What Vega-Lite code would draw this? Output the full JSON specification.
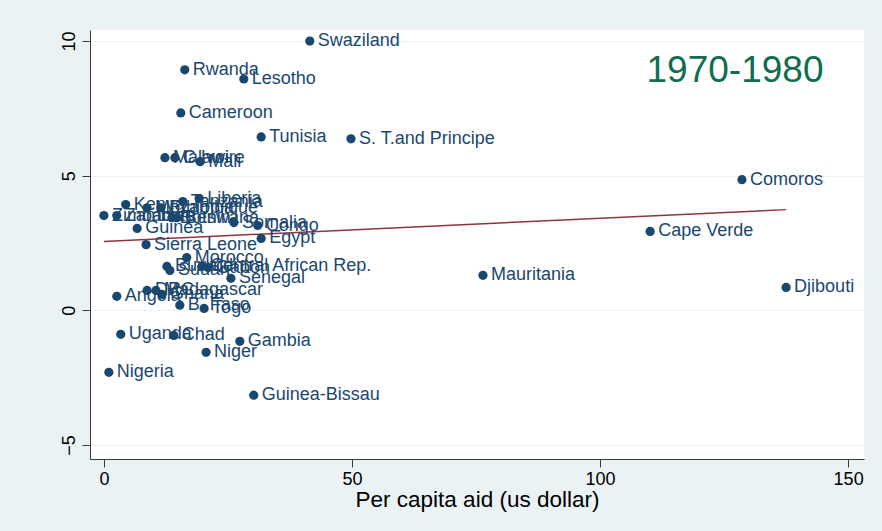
{
  "$schema": "https://vega.github.io/schema/vega-lite/v6.json",
  "autosize": {"type": "none"},
  "width": 774,
  "height": 429,
  "padding": {"left": 90, "top": 30, "right": 18, "bottom": 72},
  "background": "#eaf2f3",
  "config": {
    "view": {"fill": "white", "stroke": null},
    "font": "Liberation Sans",
    "axis": {
      "domainColor": "#3a3a3a",
      "tickColor": "#3a3a3a",
      "tickSize": 8,
      "labelColor": "#000000",
      "labelFont": "Liberation Sans",
      "labelFontSize": 18,
      "titleFont": "Liberation Sans",
      "titleFontWeight": "normal",
      "titleColor": "#000000"
    }
  },
  "datasets": {
    "countries": [
      {"country": "Swaziland", "aid": 41.5, "growth": 10.0},
      {"country": "Rwanda", "aid": 16.3, "growth": 8.93},
      {"country": "Lesotho", "aid": 28.2, "growth": 8.59},
      {"country": "Cameroon", "aid": 15.5, "growth": 7.33},
      {"country": "Tunisia", "aid": 31.7, "growth": 6.44},
      {"country": "S. T.and Principe", "aid": 49.8, "growth": 6.37},
      {"country": "Malawi", "aid": 12.3, "growth": 5.67},
      {"country": "C.Ivoire", "aid": 14.3, "growth": 5.67},
      {"country": "Mali", "aid": 19.4, "growth": 5.52},
      {"country": "Comoros", "aid": 128.6, "growth": 4.85},
      {"country": "Liberia", "aid": 19.2, "growth": 4.15},
      {"country": "Tanzania", "aid": 15.9, "growth": 4.04},
      {"country": "Kenya", "aid": 4.4, "growth": 3.93},
      {"country": "Mozambique", "aid": 8.7, "growth": 3.81},
      {"country": "Ethiopia", "aid": 11.5, "growth": 3.81},
      {"country": "Zimbabwe", "aid": 0.0, "growth": 3.52},
      {"country": "Zambia", "aid": 2.6, "growth": 3.52},
      {"country": "Botswana", "aid": 13.7, "growth": 3.44},
      {"country": "Benin", "aid": 14.7, "growth": 3.44},
      {"country": "Somalia", "aid": 26.2, "growth": 3.26},
      {"country": "Congo", "aid": 31.0, "growth": 3.15},
      {"country": "Guinea", "aid": 6.7, "growth": 3.04},
      {"country": "Egypt", "aid": 31.7, "growth": 2.67},
      {"country": "Sierra Leone", "aid": 8.5, "growth": 2.44},
      {"country": "Morocco", "aid": 16.7, "growth": 1.96},
      {"country": "Burundi", "aid": 12.7, "growth": 1.63},
      {"country": "Sudan", "aid": 13.3, "growth": 1.48},
      {"country": "Central African Rep.", "aid": 19.8, "growth": 1.63},
      {"country": "Gabon", "aid": 21.0, "growth": 1.59},
      {"country": "Senegal", "aid": 25.6, "growth": 1.19},
      {"country": "Mauritania", "aid": 76.4, "growth": 1.3},
      {"country": "Cape Verde", "aid": 110.1, "growth": 2.93},
      {"country": "Djibouti", "aid": 137.5, "growth": 0.85},
      {"country": "DRC", "aid": 8.7, "growth": 0.74},
      {"country": "Madagascar", "aid": 10.5, "growth": 0.74},
      {"country": "Angola", "aid": 2.6, "growth": 0.52},
      {"country": "Ghana", "aid": 11.7, "growth": 0.59},
      {"country": "B. Faso", "aid": 15.3, "growth": 0.19},
      {"country": "Togo", "aid": 20.2, "growth": 0.07},
      {"country": "Uganda", "aid": 3.4, "growth": -0.89},
      {"country": "Chad", "aid": 14.1, "growth": -0.93},
      {"country": "Gambia", "aid": 27.4, "growth": -1.15},
      {"country": "Niger", "aid": 20.6, "growth": -1.56},
      {"country": "Nigeria", "aid": 1.0, "growth": -2.3},
      {"country": "Guinea-Bissau", "aid": 30.2, "growth": -3.15}
    ],
    "fit": [
      {"aid": 0, "fitted": 2.56},
      {"aid": 137.5, "fitted": 3.74}
    ],
    "period": [
      {"label": "1970-1980"}
    ]
  },
  "layer": [
    {
      "data": {"name": "fit"},
      "mark": {"type": "line", "color": "#90353b", "strokeWidth": 1.5},
      "encoding": {
        "x": {
          "field": "aid", "type": "quantitative",
          "scale": {"domain": [-2.8, 153.2], "nice": false, "zero": false},
          "axis": {
            "values": [0, 50, 100, 150],
            "title": "Per capita aid (us dollar)",
            "titleFontSize": 22.5,
            "titlePadding": 0,
            "labelPadding": 3,
            "grid": false
          }
        },
        "y": {
          "field": "fitted", "type": "quantitative",
          "scale": {"domain": [-5.52, 10.41], "nice": false, "zero": false},
          "axis": {
            "values": [-5, 0, 5, 10],
            "title": null,
            "labelAngle": 270,
            "labelAlign": "center",
            "labelBaseline": "bottom",
            "labelPadding": 4,
            "grid": true,
            "gridColor": "#eaf2f3",
            "gridWidth": 1.2
          }
        }
      }
    },
    {
      "data": {"name": "countries"},
      "mark": {"type": "circle", "color": "#1a476f", "opacity": 1, "size": 85},
      "encoding": {
        "x": {"field": "aid", "type": "quantitative"},
        "y": {"field": "growth", "type": "quantitative"}
      }
    },
    {
      "data": {"name": "countries"},
      "mark": {"type": "text", "color": "#1a476f", "align": "left", "baseline": "middle", "dx": 8, "fontSize": 18, "font": "Liberation Sans"},
      "encoding": {
        "x": {"field": "aid", "type": "quantitative"},
        "y": {"field": "growth", "type": "quantitative"},
        "text": {"field": "country"}
      }
    },
    {
      "data": {"name": "period"},
      "mark": {"type": "text", "color": "#0e6e4e", "align": "center", "baseline": "middle", "fontSize": 37, "font": "Liberation Sans"},
      "encoding": {
        "x": {"datum": 127.2, "type": "quantitative"},
        "y": {"datum": 8.89, "type": "quantitative"},
        "text": {"field": "label"}
      }
    }
  ]
}
